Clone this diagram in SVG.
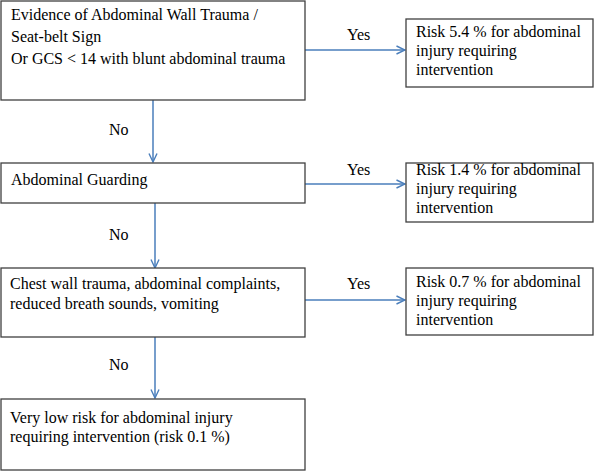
<svg xmlns="http://www.w3.org/2000/svg" width="596" height="471" viewBox="0 0 596 471">
<defs>
<style>
.box{fill:#fff;stroke:#404040;stroke-width:1.3}
.t{font-family:"Liberation Serif","Times New Roman",serif;font-size:16px;fill:#000}
.c{stroke:#4a7ebb;stroke-width:1.5;fill:none}
</style>
<marker id="ah" viewBox="0 0 10 10" refX="9.5" refY="5" markerWidth="10" markerHeight="10" markerUnits="userSpaceOnUse" orient="auto">
<path d="M1,1 L9.5,5 L1,9" fill="none" stroke="#4a7ebb" stroke-width="1.4"/>
</marker>
</defs>
<rect width="596" height="471" fill="#fff"/>
<g id="connectors">
<line class="c" x1="153" y1="100" x2="153" y2="162" marker-end="url(#ah)"/>
<line class="c" x1="155" y1="203" x2="155" y2="268" marker-end="url(#ah)"/>
<line class="c" x1="155" y1="337" x2="155" y2="398" marker-end="url(#ah)"/>
<line class="c" x1="305" y1="50" x2="405" y2="50" marker-end="url(#ah)"/>
<line class="c" x1="305" y1="184" x2="405" y2="184" marker-end="url(#ah)"/>
<line class="c" x1="305" y1="300" x2="405" y2="300" marker-end="url(#ah)"/>
<text class="t" x="109" y="135">No</text>
<text class="t" x="109" y="240">No</text>
<text class="t" x="109" y="370">No</text>
<text class="t" x="347" y="40">Yes</text>
<text class="t" x="347" y="175">Yes</text>
<text class="t" x="347" y="289">Yes</text>
</g>
<g id="n1">
<rect class="box" x="1" y="1" width="304" height="99"/>
<text class="t" x="11" y="20">Evidence of Abdominal Wall Trauma /</text>
<text class="t" x="11" y="42">Seat-belt Sign</text>
<text class="t" x="11" y="64">Or GCS &lt; 14 with blunt abdominal trauma</text>
</g>
<g id="r1">
<rect class="box" x="406" y="19" width="187" height="68"/>
<text class="t" x="416" y="37">Risk 5.4 % for abdominal</text>
<text class="t" x="416" y="56">injury requiring</text>
<text class="t" x="416" y="75">intervention</text>
</g>
<g id="n2">
<rect class="box" x="1" y="163" width="304" height="40"/>
<text class="t" x="11" y="185">Abdominal Guarding</text>
</g>
<g id="r2">
<rect class="box" x="406" y="163" width="187" height="59"/>
<text class="t" x="416" y="175">Risk 1.4 % for abdominal</text>
<text class="t" x="416" y="194">injury requiring</text>
<text class="t" x="416" y="213">intervention</text>
</g>
<g id="n3">
<rect class="box" x="1" y="268" width="304" height="69"/>
<text class="t" x="10" y="289">Chest wall trauma, abdominal complaints,</text>
<text class="t" x="10" y="309">reduced breath sounds, vomiting</text>
</g>
<g id="r3">
<rect class="box" x="406" y="268" width="187" height="67"/>
<text class="t" x="416" y="287">Risk 0.7 % for abdominal</text>
<text class="t" x="416" y="306">injury requiring</text>
<text class="t" x="416" y="325">intervention</text>
</g>
<g id="n4">
<rect class="box" x="1" y="399" width="304" height="71"/>
<text class="t" x="10" y="423">Very low risk for abdominal injury</text>
<text class="t" x="10" y="442">requiring intervention (risk 0.1 %)</text>
</g>
</svg>
